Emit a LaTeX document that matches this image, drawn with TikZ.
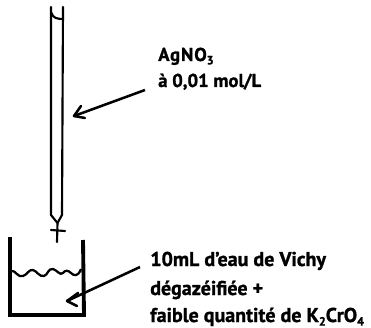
\documentclass[tikz,border=0pt]{standalone}
\usepackage{fontspec}
\setmainfont{PT Sans}[BoldFeatures={FakeBold=1.2}]
\tikzset{
  thinline/.style={line width=1.6pt,black,line cap=round,line join=round},
  thickline/.style={line width=2.9pt,black,line cap=butt,line join=miter},
  lbl/.style={anchor=base west,inner sep=0pt,font=\bfseries\fontsize{15}{16}\selectfont},
  lblsmall/.style={anchor=base west,inner sep=0pt,font=\bfseries\fontsize{14}{16}\selectfont}
}
\newcommand{\subn}[1]{\raisebox{-0.18em}{\fontsize{9}{10}\selectfont #1}}
\begin{document}
\begin{tikzpicture}[x=0.75pt,y=-0.75pt]
\useasboundingbox (0,0) rectangle (371,328);
% burette
\coordinate (bl) at (51,7);
\coordinate (br) at (63,7);
\coordinate (tl) at (51,215);
\coordinate (tr) at (62,215);
\coordinate (tipmid) at (57.5,223);
\coordinate (tipend) at (57,242);
\draw[thinline] (bl) -- (tl) -- (tipmid) -- (tipend);
\draw[thinline] (br) -- (tr) -- (tipmid);
\draw[thinline] (51,230) -- (65,231);
\draw[thinline] (51.5,13) .. controls (53,18) and (57,19) .. (63,19);
% beaker
\draw[thickline] (10,237) -- (10,315) -- (84,315) -- (83,240);
% liquid
\draw[line width=1.7pt,line join=round] (12,271) .. controls (15,270) and (18,278) .. (23,276)
 .. controls (27,275) and (29,269) .. (33,270)
 .. controls (37,271) and (39,277) .. (44,276)
 .. controls (48,275) and (48,268) .. (53,269)
 .. controls (57,270) and (60,276) .. (63,273)
 .. controls (65,270) and (68,270) .. (71,273)
 .. controls (74,276) and (78,277) .. (81,269);
% arrows
\coordinate (a1s) at (145,90);
\coordinate (a1e) at (74,116);
\draw[line width=1.9pt] (a1s) -- (a1e);
\draw[line width=1.9pt,line join=round,line cap=round] (81,106) -- (a1e) -- (85,118);
\coordinate (a2s) at (140,267);
\coordinate (a2e) at (67,301);
\draw[line width=1.9pt] (a2s) -- (a2e);
\draw[line width=1.9pt,line join=round,line cap=round] (78,293) -- (a2e) -- (77,306);
% labels
\node[lblsmall] (ag) at (158,61) {\addfontfeature{LetterSpace=5}AgNO\subn{3}};
\node[lblsmall] (conc) at (158,87) {à 0,01 mol/L};
\node[lbl] (l1) at (150,266) {10mL d\symbol{39}eau de Vichy};
\node[lbl] (l2) at (150,295) {dégazéifiée +};
\node[lbl] (l3) at (150,322) {faible quantité de K\subn{2}CrO\subn{4}};
\end{tikzpicture}
\end{document}
